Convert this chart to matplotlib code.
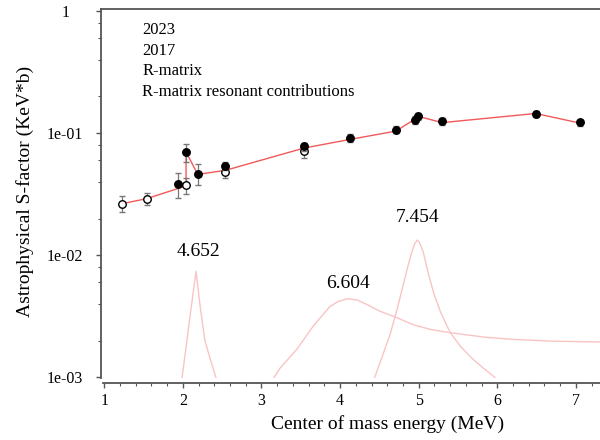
import numpy as np
import matplotlib
matplotlib.use('Agg')
from matplotlib import pyplot as plt
from matplotlib.ticker import LogLocator, FixedLocator, MultipleLocator

# 2023 measurement
e2023 = [1.94, 2.04, 2.19, 2.54, 3.54, 4.13, 4.71, 4.95, 4.99, 5.30, 6.49, 7.05]
s2023 = [0.0386, 0.0701, 0.0466, 0.0542, 0.0778, 0.0912, 0.1067, 0.1288, 0.137, 0.1247, 0.143, 0.1224]
err2023 = [0.009, 0.012, 0.009, 0.004, 0.006, 0.007, 0.007, 0.009, 0.009, 0.009, 0.008, 0.007]

# 2017 measurement
e2017 = [1.23, 1.54, 2.04, 2.54, 3.54]
s2017 = [0.0265, 0.0291, 0.0374, 0.0478, 0.0709]
err2017 = [0.004, 0.0033, 0.0055, 0.0052, 0.008]

# R-matrix fit
e_rm = [1.23, 1.54, 2.04, 2.04, 2.19, 2.54, 3.54, 4.13, 4.71, 4.95, 5.0, 5.30, 6.49, 7.05]
s_rm = [0.0265, 0.0291, 0.037, 0.070, 0.046, 0.0496, 0.0755, 0.089, 0.104, 0.130, 0.137, 0.122, 0.145, 0.121]

# resonant contributions
res_labels = ['4.652', '6.604', '7.454']
res_e = [
    [1.99, 2.08, 2.167, 2.22, 2.28, 2.35, 2.42],
    [3.16, 3.24, 3.45, 3.66, 3.87, 3.98, 4.10, 4.22, 4.34, 4.50, 4.72, 4.93, 5.14,
     5.35, 5.57, 5.85, 6.20, 6.70, 7.31],
    [4.44, 4.63, 4.72, 4.80, 4.86, 4.91, 4.95, 4.98, 5.01, 5.06, 5.12, 5.19, 5.28,
     5.40, 5.53, 5.69, 5.83, 5.97],
]
res_s = [
    [0.001, 0.0028, 0.0074, 0.0038, 0.002, 0.0014, 0.001],
    [0.001, 0.0012, 0.0017, 0.00264, 0.0038, 0.0042, 0.00441, 0.0043, 0.00396, 0.0035,
     0.00309, 0.0027, 0.00248, 0.00235, 0.00225, 0.00213, 0.00205, 0.00198, 0.00195],
    [0.001, 0.00218, 0.0035, 0.0056, 0.0080, 0.0105, 0.0125, 0.0133, 0.0128, 0.0105,
     0.0072, 0.00494, 0.0034, 0.00233, 0.0018, 0.00141, 0.00118, 0.001],
]
res_label_pos = [(2.20, 0.0108), (4.10, 0.0059), (4.99, 0.0203)]

legend_labels = ['2023', '2017', 'R-matrix', 'R-matrix resonant contributions']

plt.rcParams['font.family'] = ['Liberation Serif', 'DejaVu Serif']

fig = plt.figure(figsize=(6, 4.4), dpi=100)
ax = fig.add_axes([101 / 600, 0.1398, 1 - 101 / 600, 0.8398])

for e, s in zip(res_e, res_s):
    ax.plot(e, s, color='#f9c4c4', lw=1.0, zorder=1)
for lab, (x, y) in zip(res_labels, res_label_pos):
    ax.text(x, y, lab, fontsize=14, ha='center', va='center')

ax.plot(e_rm, s_rm, color='#f05a5a', lw=1.0, zorder=2)

ax.errorbar(e2017, s2017, yerr=err2017, fmt='o', ms=5.4, mfc='white', mec='black',
            mew=1.0, ecolor='#777777', elinewidth=0.9, capsize=2, zorder=3)
ax.errorbar(e2023, s2023, yerr=err2023, fmt='o', ms=5.4, mfc='black', mec='black',
            ecolor='#777777', elinewidth=0.9, capsize=2, zorder=4)

for i, lab in enumerate(legend_labels):
    ax.text(0.083, 0.942 - i * 0.0555, lab, transform=ax.transAxes, fontsize=12,
            ha='left', va='center')

ax.set_yscale('log')
ax.set_ylim(0.00098, 1.04)
ax.set_xlim(0.958, 7.307)

ax.yaxis.set_major_locator(FixedLocator([1e-3, 1e-2, 1e-1, 1]))
ax.set_yticklabels(['1e-03', '1e-02', '1e-01', '1'], ha='center')
ax.yaxis.set_minor_locator(LogLocator(base=10, subs=[2, 4, 6, 8]))
ax.yaxis.set_minor_formatter(plt.NullFormatter())
ax.xaxis.set_major_locator(MultipleLocator(1))
ax.xaxis.set_minor_locator(MultipleLocator(0.2))

ax.spines['right'].set_visible(False)
ax.spines['bottom'].set_position(('outward', 3))
ax.spines['bottom'].set_bounds(0.985, 7.307)
ax.spines['left'].set_bounds(0.00098, 1.04)
for sp in ['left', 'bottom', 'top']:
    ax.spines[sp].set_color('#555555')
    ax.spines[sp].set_linewidth(1.3)

ax.tick_params(axis='both', which='major', labelsize=11.5, length=3.8, width=1, color='#555555')
ax.tick_params(axis='both', which='minor', length=2.3, width=0.8, color='#555555')
ax.tick_params(axis='y', pad=22)
ax.tick_params(axis='x', pad=4)

fig.text(388 / 600, 1 - 424 / 440, 'Center of mass energy (MeV)', fontsize=14,
         ha='center', va='center')
fig.text(25 / 600, 1 - 191 / 440, 'Astrophysical S-factor (KeV*b)', fontsize=14,
         ha='center', va='center', rotation=90)

fig.savefig('out.png', dpi=100)
